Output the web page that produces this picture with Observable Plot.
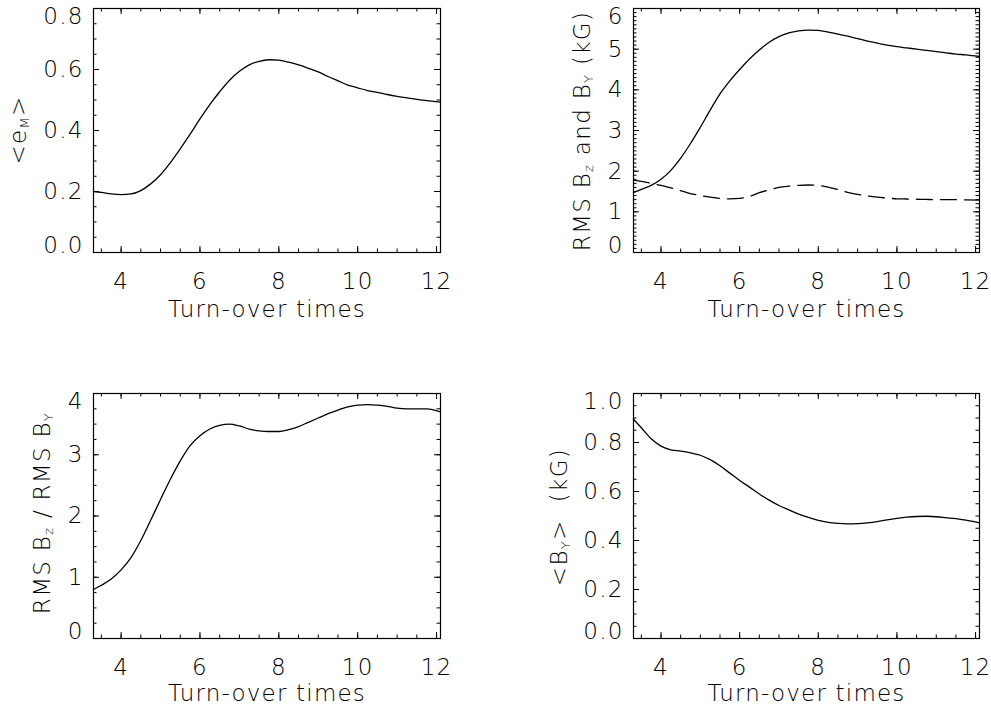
<!DOCTYPE html>
<html><head><meta charset="utf-8">
<script src="https://cdn.jsdelivr.net/npm/d3@7"></script>
<script src="https://cdn.jsdelivr.net/npm/@observablehq/plot@0.6"></script>
<style>
body{margin:0;background:#fff;}
#fig{position:relative;width:991px;height:711px;overflow:hidden;background:#fff;}
.panel{position:absolute;}
.panel svg{overflow:visible;}
</style></head><body><div id="fig"></div>
<script>
// Turn-over times (x) for all curves
const time = [3.3,3.5,3.75,4.0,4.25,4.5,4.75,5.0,5.25,5.5,5.75,6.0,6.25,6.5,6.75,7.0,7.25,7.5,7.75,8.0,
  8.25,8.5,8.75,9.0,9.25,9.5,9.75,10.0,10.25,10.5,10.75,11.0,11.25,11.5,11.75,12.1];
// <e_M>
const eM = [0.200,0.197,0.192,0.190,0.192,0.203,0.225,0.255,0.295,0.340,0.388,0.438,0.485,0.527,0.565,0.594,
  0.615,0.627,0.632,0.631,0.624,0.615,0.604,0.592,0.577,0.563,0.549,0.540,0.531,0.525,0.518,0.512,0.507,0.502,0.498,0.493];
// RMS B_z (kG), solid
const rmsBz = [1.47,1.55,1.65,1.80,2.02,2.32,2.68,3.08,3.50,3.90,4.22,4.50,4.76,4.98,5.17,5.31,5.40,5.45,5.47,5.46,
  5.42,5.37,5.32,5.26,5.20,5.15,5.10,5.06,5.03,5.00,4.97,4.94,4.91,4.88,4.86,4.82];
// RMS B_y (kG), dashed
const rmsBy = [1.78,1.75,1.70,1.65,1.59,1.52,1.45,1.40,1.36,1.33,1.32,1.33,1.38,1.47,1.54,1.60,1.63,1.65,1.66,1.65,
  1.61,1.55,1.48,1.43,1.39,1.36,1.34,1.32,1.315,1.31,1.305,1.30,1.30,1.30,1.295,1.29];
// RMS B_z / RMS B_y
const ratio = [0.80,0.87,0.97,1.12,1.32,1.60,1.93,2.27,2.60,2.90,3.15,3.31,3.42,3.48,3.50,3.47,3.42,3.39,3.38,3.38,
  3.41,3.46,3.53,3.60,3.67,3.73,3.78,3.81,3.82,3.81,3.79,3.76,3.75,3.75,3.75,3.70];
// <B_y> (kG)
const meanBy = [0.895,0.860,0.815,0.785,0.770,0.765,0.758,0.748,0.730,0.705,0.675,0.645,0.618,0.590,0.565,0.543,
  0.525,0.508,0.494,0.482,0.474,0.470,0.468,0.469,0.472,0.477,0.484,0.490,0.495,0.498,0.499,0.497,0.493,0.489,0.483,0.472];

const xDomain = [3.3, 12.1];
const xMajor = [4, 6, 8, 10, 12];
const xMinorStep = 0.5;
const xTitle = "Turn-over times";

const yMajor1 = [0.0, 0.2, 0.4, 0.6, 0.8];
const yMajor2 = [0, 1, 2, 3, 4, 5, 6];
const yMajor3 = [0, 1, 2, 3, 4];
const yMajor4 = [0.0, 0.2, 0.4, 0.6, 0.8, 1.0];

const rows = (ys) => time.map((t, i) => ({t, v: ys[i]}));
const FONT = "'DejaVu Sans', sans-serif";
const MAJ = 6, MIN = 3.5;

function makePanel(cfg) {
  const {left, top, width, height, m, yDomain, yMajor, yMinorStep, fmt, series, yLabel, yLabelPos, xTitleDy} = cfg;
  const innerW = width - m[0] - m[2];
  const innerH = height - m[1] - m[3];
  const minorX = d3.range(3.5, 12.11, xMinorStep);
  const minorY = d3.range(yDomain[0], yDomain[1] + 1e-9, yMinorStep);
  const inner = yMajor.slice(1, -1);
  const tx = (vals, len, side) => Plot.tickX(vals, {x: d => d, stroke: "black", strokeWidth: 1,
    insetTop: side === "bottom" ? innerH - len : 0, insetBottom: side === "top" ? innerH - len : 0});
  const ty = (vals, len, side) => Plot.tickY(vals, {y: d => d, stroke: "black", strokeWidth: 1,
    insetRight: side === "left" ? innerW - len : 0, insetLeft: side === "right" ? innerW - len : 0});
  const marks = [
    // inward ticks on all four sides
    tx(minorX, MIN, "bottom"), tx(minorX, MIN, "top"),
    tx(xMajor, MAJ, "bottom"), tx(xMajor, MAJ, "top"),
    ty(minorY, MIN, "left"), ty(minorY, MIN, "right"),
    ty(yMajor, MAJ, "left"), ty(yMajor, MAJ, "right"),
    Plot.frame({stroke: "black", strokeWidth: 1.2}),
    // tick labels
    Plot.axisX(xMajor, {anchor: "bottom", tickSize: 0, tickPadding: 20, label: null, tickFormat: d3.format("d")}),
    Plot.axisY(inner, {anchor: "left", tickSize: 0, tickPadding: 10, label: null, tickFormat: fmt}),
    Plot.axisY([yMajor[0]], {anchor: "left", tickSize: 0, tickPadding: 10, label: null, tickFormat: fmt, dy: -7}),
    Plot.axisY([yMajor[yMajor.length - 1]], {anchor: "left", tickSize: 0, tickPadding: 10, label: null, tickFormat: fmt, dy: 8}),
    Plot.text([xTitle], {text: d => d, frameAnchor: "bottom", dy: xTitleDy, lineAnchor: "middle"}),
    ...series.map(s => Plot.line(rows(s.values), {x: "t", y: "v", curve: "monotone-x", stroke: "black",
      strokeWidth: 1.3, strokeDasharray: s.dash || null}))
  ];
  const plot = Plot.plot({
    width, height,
    marginLeft: m[0], marginTop: m[1], marginRight: m[2], marginBottom: m[3],
    x: {domain: xDomain},
    y: {domain: yDomain},
    style: {fontFamily: FONT, fontSize: "23px", fontWeight: 200, color: "black", background: "white", letterSpacing: "1.2px"},
    marks
  });
  // y-axis title with subscripts
  const svg = d3.select(plot);
  const t = svg.append("text")
    .attr("transform", `translate(${yLabelPos[0]},${yLabelPos[1]}) rotate(-90)`)
    .attr("text-anchor", "middle")
    .attr("dominant-baseline", "central")
    .attr("fill", "black")
    .style("font-family", FONT).style("font-size", "23px").style("font-weight", 200).style("letter-spacing", "1.3px");
  let shift = 0;
  yLabel.forEach(p => {
    const sp = t.append("tspan").text(p.s);
    if (p.sub) { sp.attr("dy", 6).style("font-size", "13px"); shift = -6; }
    else if (shift) { sp.attr("dy", shift); shift = 0; }
  });
  const div = document.createElement("div");
  div.className = "panel";
  div.style.left = left + "px";
  div.style.top = top + "px";
  div.appendChild(plot);
  document.getElementById("fig").appendChild(div);
}

makePanel({
  left: 0, top: 0, width: 495, height: 355, m: [93, 8, 55, 103],
  yDomain: [0, 0.8], yMajor: yMajor1, yMinorStep: 0.05, fmt: d3.format(".1f"),
  series: [{values: eM}], xTitleDy: 57,
  yLabel: [{s: "<e"}, {s: "M", sub: true}, {s: ">"}], yLabelPos: [18, 130]
});
makePanel({
  left: 495, top: 0, width: 496, height: 355, m: [138, 8, 12, 103],
  yDomain: [0, 6], yMajor: yMajor2, yMinorStep: 0.1, fmt: d3.format("d"),
  series: [{values: rmsBz}, {values: rmsBy, dash: "16,8"}], xTitleDy: 57,
  yLabel: [{s: "RMS B"}, {s: "z", sub: true}, {s: " and B"}, {s: "Y", sub: true}, {s: " (kG)"}], yLabelPos: [87, 131]
});
makePanel({
  left: 0, top: 355, width: 495, height: 356, m: [93, 38, 55, 73],
  yDomain: [0, 4], yMajor: yMajor3, yMinorStep: 0.25, fmt: d3.format("d"),
  series: [{values: ratio}], xTitleDy: 55,
  yLabel: [{s: "RMS B"}, {s: "z", sub: true}, {s: " / RMS B"}, {s: "Y", sub: true}], yLabelPos: [42, 158]
});
makePanel({
  left: 495, top: 355, width: 496, height: 356, m: [138, 38, 12, 73],
  yDomain: [0, 1], yMajor: yMajor4, yMinorStep: 0.05, fmt: d3.format(".1f"),
  series: [{values: meanBy}], xTitleDy: 55,
  yLabel: [{s: "<B"}, {s: "Y", sub: true}, {s: ">  (kG)"}], yLabelPos: [64, 162]
});
</script></body></html>
